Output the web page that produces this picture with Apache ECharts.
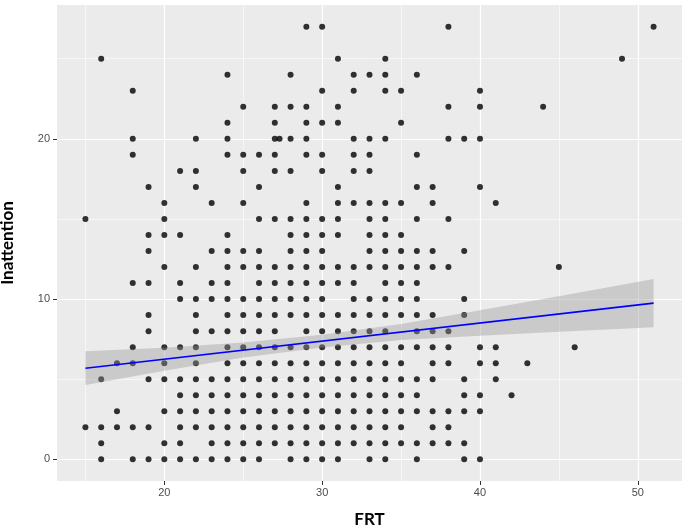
<!DOCTYPE html>
<html>
<head>
<meta charset="utf-8">
<script src="https://cdn.jsdelivr.net/npm/echarts@6/dist/echarts.min.js"></script>
<style>
  html, body { margin: 0; background: #fff; }
  #chart-container { width: 685px; height: 528px; }
</style>
</head>
<body>
<div id="chart-container"></div>
<script>
// FRT values seen at each Inattention level (index = Inattention score)
const frtByInattention = [
  [16, 18, 19, 20, 21, 22, 23, 24, 25, 26, 28, 29, 30, 31, 33, 34, 36, 39, 40],
  [16, 20, 21, 23, 24, 25, 26, 27, 28, 29, 30, 31, 32, 33, 34, 35, 36, 37, 38, 39],
  [15, 16, 17, 18, 19, 21, 22, 23, 24, 25, 26, 27, 28, 29, 30, 31, 32, 33, 34, 35, 37, 38],
  [17, 20, 21, 22, 23, 24, 25, 26, 27, 28, 29, 30, 31, 32, 33, 34, 35, 36, 37, 38, 39, 40],
  [21, 22, 23, 24, 25, 26, 27, 28, 29, 30, 31, 32, 33, 34, 35, 36, 39, 40, 42],
  [16, 19, 20, 21, 22, 23, 24, 25, 26, 27, 28, 29, 30, 31, 32, 33, 34, 35, 36, 37, 39, 41],
  [17, 18, 20, 22, 24, 25, 26, 27, 28, 29, 30, 31, 32, 33, 34, 35, 37, 38, 40, 41, 43],
  [18, 20, 21, 22, 24, 25, 26, 27, 28, 29, 30, 31, 32, 33, 34, 35, 36, 37, 38, 40, 41, 46],
  [19, 22, 23, 24, 25, 26, 27, 29, 30, 31, 32, 33, 34, 36, 37, 38],
  [19, 22, 24, 25, 26, 27, 28, 29, 30, 31, 32, 33, 34, 35, 36, 37, 39],
  [21, 22, 23, 24, 25, 26, 27, 28, 29, 30, 32, 33, 34, 35, 36, 39],
  [18, 19, 21, 23, 24, 26, 27, 28, 29, 30, 31, 32, 34, 35, 36],
  [20, 22, 24, 25, 26, 27, 28, 29, 30, 31, 32, 33, 34, 35, 36, 37, 38, 45],
  [19, 23, 24, 25, 26, 28, 29, 30, 33, 34, 35, 36, 37, 39],
  [19, 20, 21, 24, 28, 29, 30, 31, 33, 34, 35],
  [15, 20, 26, 27, 28, 29, 30, 31, 33, 34, 36, 38],
  [20, 23, 25, 29, 31, 32, 33, 34, 35, 37, 41],
  [19, 22, 26, 31, 36, 37, 40],
  [21, 22, 25, 27, 28, 30, 32, 33],
  [18, 24, 25, 26, 27, 29, 30, 32, 33, 36],
  [18, 22, 24, 27, 27.3, 28, 29, 32, 33, 34, 38, 39, 40],
  [24, 27, 29, 30, 31, 35],
  [25, 27, 28, 29, 31, 38, 40, 44],
  [18, 30, 32, 34, 35, 40],
  [24, 28, 32, 33, 34, 36],
  [16, 31, 34, 49],
  [],
  [29, 30, 38, 51]
];

// linear fit and its confidence band
const fitFrt = [15, 51];
const fitInattention = [5.69, 9.75];
const bandFrt = [15, 20, 25, 30, 35, 40, 45, 51];
const bandLower = [4.64, 5.53, 6.35, 6.98, 7.45, 7.71, 7.97, 8.25];
const bandUpper = [6.74, 6.97, 7.29, 7.78, 8.45, 9.31, 10.17, 11.25];

const xTicks = [20, 30, 40, 50];
const yTicks = [0, 10, 20];
const xMinor = [15, 25, 35, 45];
const yMinor = [5, 15, 25];

const points = [];
frtByInattention.forEach((row, level) => {
  row.forEach((frt) => points.push([frt, level]));
});

var chartDom = document.getElementById("chart-container");
var myChart = echarts.init(chartDom);

const tickLabel = { color: "#4d4d4d", fontSize: 11, fontFamily: "Liberation Sans" };
const titleText = { color: "#000", fontSize: 17, fontWeight: "bold", fontFamily: "Lato" };

var option = {
  animation: false,
  grid: {
    left: 57, right: 3, top: 5, bottom: 47,
    containLabel: false,
    outerBoundsMode: "none",
    show: true, backgroundColor: "#ebebeb", borderWidth: 0
  },
  xAxis: {
    type: "value",
    min: 13.2,
    max: 52.8,
    splitNumber: 4,
    name: "FRT",
    nameLocation: "middle",
    nameGap: 30,
    nameTextStyle: titleText,
    axisLine: { show: false, onZero: false },
    axisTick: { show: true, length: 4, lineStyle: { color: "#333" }, customValues: xTicks },
    axisLabel: Object.assign({ margin: 6, customValues: xTicks }, tickLabel),
    splitLine: { show: true, lineStyle: { color: "#fff", width: 1.2 } }
  },
  yAxis: {
    type: "value",
    min: -1.35,
    max: 28.35,
    splitNumber: 3,
    name: "Inattention",
    nameLocation: "middle",
    nameGap: 41,
    nameTextStyle: titleText,
    axisLine: { show: false, onZero: false },
    axisTick: { show: true, length: 4, lineStyle: { color: "#333" }, customValues: yTicks },
    axisLabel: Object.assign({ margin: 7, customValues: yTicks }, tickLabel),
    splitLine: { show: true, lineStyle: { color: "#fff", width: 1.2 } }
  },
  series: [
    {
      // minor grid lines
      type: "scatter",
      data: [],
      z: 1,
      silent: true,
      markLine: {
        z: 1,
        silent: true,
        symbol: ["none", "none"],
        label: { show: false },
        lineStyle: { color: "#fff", width: 0.6, type: "solid" },
        emphasis: { disabled: true },
        data: xMinor.map((v) => ({ xAxis: v })).concat(yMinor.map((v) => ({ yAxis: v })))
      }
    },
    {
      type: "scatter",
      data: points,
      symbolSize: 6,
      itemStyle: { color: "#000" },
      z: 3,
      silent: true
    },
    {
      type: "custom",
      data: bandFrt.map((x, i) => [x, bandLower[i], bandUpper[i]]),
      encode: { x: 0, y: [1, 2] },
      z: 4,
      silent: true,
      renderItem: function (params, api) {
        if (params.dataIndex !== 0) return;
        const top = bandFrt.map((x, i) => api.coord([x, bandUpper[i]]));
        const bottom = bandFrt.map((x, i) => api.coord([x, bandLower[i]])).reverse();
        return {
          type: "polygon",
          shape: { points: top.concat(bottom) },
          style: { fill: "rgba(153,153,153,0.4)" }
        };
      }
    },
    {
      type: "line",
      data: fitFrt.map((x, i) => [x, fitInattention[i]]),
      showSymbol: false,
      lineStyle: { color: "#0000ff", width: 1.6 },
      z: 5,
      silent: true
    }
  ]
};

option && myChart.setOption(option);
</script>
</body>
</html>
